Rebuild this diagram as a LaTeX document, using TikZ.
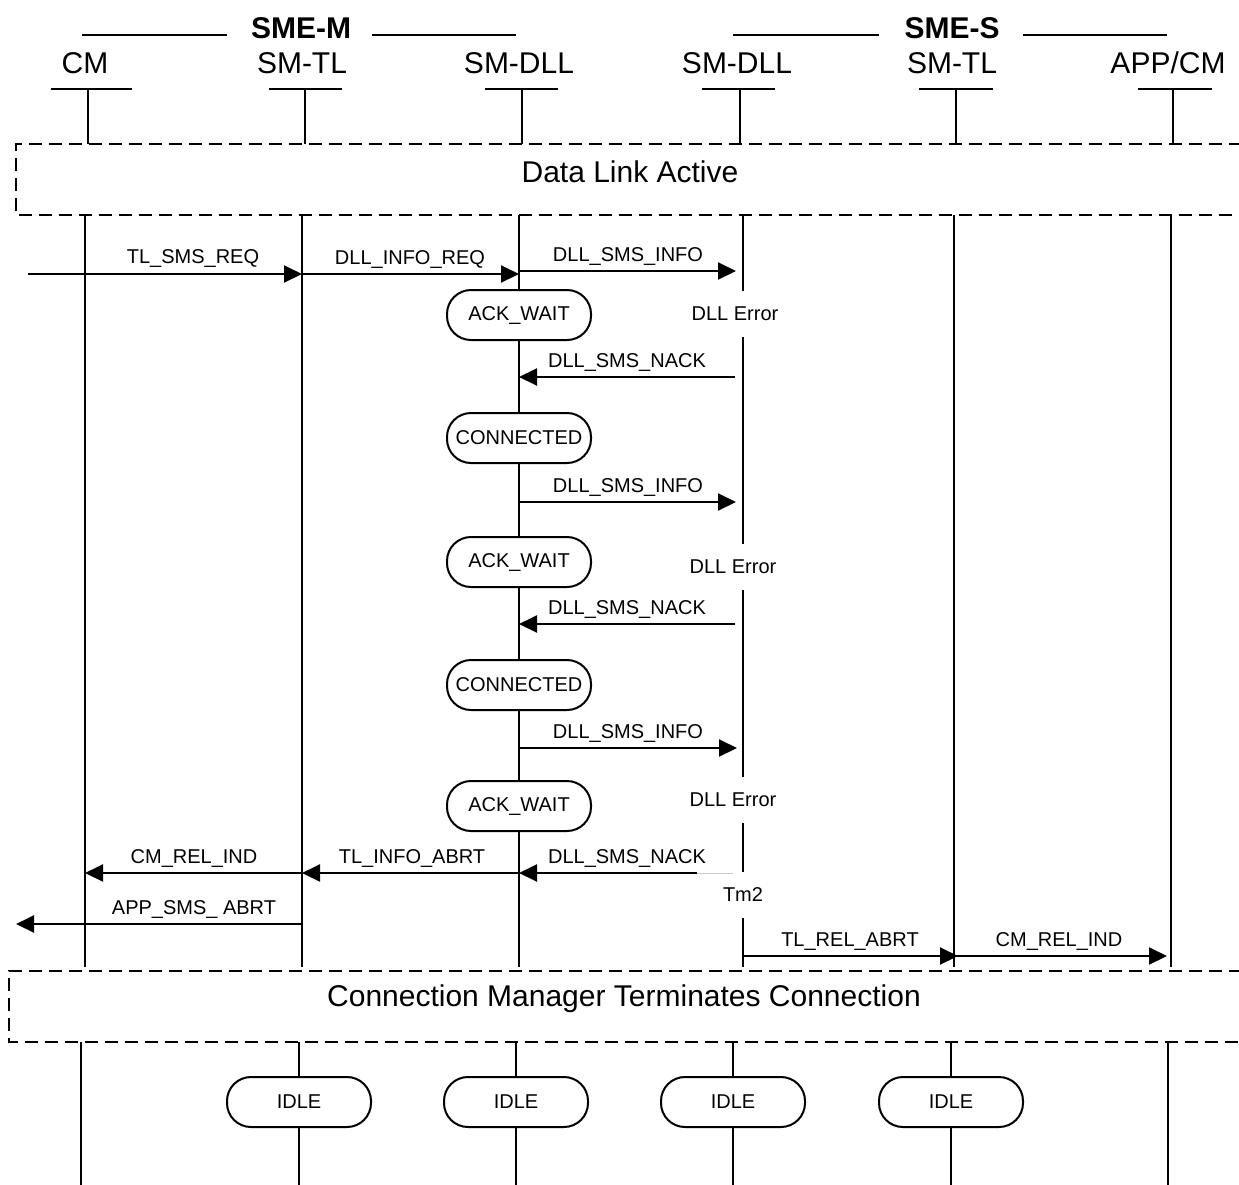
\documentclass[tikz,border=0pt]{standalone}
\usepackage{fontspec}
\setmainfont{Liberation Sans}
\usetikzlibrary{arrows.meta}

\tikzset{
  lifeline/.style={line width=1pt},
  msg/.style={line width=1pt, -{Triangle[length=9pt,width=8.5pt]}},
  msglabel/.style={anchor=base, inner sep=0pt, font=\fontsize{10}{12}\selectfont},
  headlabel/.style={anchor=base, inner sep=0pt, font=\fontsize{15}{18}\selectfont},
  statebox/.style={draw, line width=1pt, fill=white, rounded corners=12pt,
    minimum width=72pt, minimum height=25pt, inner sep=0pt, font=\fontsize{10}{12}\selectfont},
  gaplabel/.style={minimum height=23pt, inner sep=0pt, font=\fontsize{10}{12}\selectfont},
  phasebox/.style={line width=1.2pt, dash pattern=on 6.5pt off 3.5pt},
}

\begin{document}
\begin{tikzpicture}[x=0.5pt, y=-0.5pt]
    \useasboundingbox (0,0) rectangle (1239,1185);

    % entity groups
    \node[headlabel, font=\fontsize{15}{18}\selectfont\bfseries] (smeM) at (301,38) {SME-M};
    \draw[lifeline] (82,35) -- (227,35) (372,35) -- (516,35);
    \node[headlabel, font=\fontsize{15}{18}\selectfont\bfseries] (smeS) at (952,38) {SME-S};
    \draw[lifeline] (733,35) -- (879,35) (1023,35) -- (1167,35);

    % entities
    \node[headlabel] (hCM) at (85,73) {CM};
    \node[headlabel] (hTL) at (302,73) {SM-TL};
    \node[headlabel] (hDLL) at (519,73) {SM-DLL};
    \node[headlabel] (hSDLL) at (737,73) {SM-DLL};
    \node[headlabel] (hSTL) at (952,73) {SM-TL};
    \node[headlabel] (hAPP) at (1168,73) {APP/CM};
    \foreach \x/\l/\r in {88/51/132, 305/269/342, 522/485/558, 740/702/775, 956/919/993, 1173/1138/1212}
        \draw[lifeline] (\l,89) -- (\r,89) (\x,89) -- (\x,144);

    % Data Link Active
    \draw[phasebox] (1262,144) -- (16,144) -- (16,215) -- (1262,215);
    \node[font=\fontsize{15}{18}\selectfont] (dla) at (630,172) {Data Link Active};

    % lifelines
    \coordinate (cm) at (85,0);
    \coordinate (tl) at (302,0);
    \coordinate (dll) at (519,0);
    \coordinate (sdll) at (743,0);
    \coordinate (stl) at (954,0);
    \coordinate (app) at (1171,0);
    \foreach \n in {cm,tl,stl,app}
        \draw[lifeline] (\n |- 0,215) -- (\n |- 0,967);

    % states of SM-DLL
    \node[statebox] (ack1) at (519,315) {ACK\_WAIT};
    \node[statebox] (con1) at (519,438) {CONNECTED};
    \node[statebox] (ack2) at (519,562) {ACK\_WAIT};
    \node[statebox] (con2) at (519,685) {CONNECTED};
    \node[statebox] (ack3) at (519,806) {ACK\_WAIT};
    \draw[lifeline] (dll |- 0,215) -- (ack1) -- (con1) -- (ack2) -- (con2) -- (ack3) -- (dll |- 0,967);

    % errors on SME-S side
    \node[gaplabel] (err1) at (735,314) {DLL Error};
    \node[gaplabel] (err2) at (733,567) {DLL Error};
    \node[gaplabel] (err3) at (733,800) {DLL Error};
    \node[gaplabel] (tmr) at (743,895) {Tm2};
    \draw[lifeline] (sdll |- 0,215) -- (sdll |- err1.north)
        (sdll |- err1.south) -- (sdll |- err2.north)
        (sdll |- err2.south) -- (sdll |- err3.north)
        (sdll |- err3.south) -- (sdll |- tmr.north)
        (sdll |- tmr.south) -- (sdll |- 0,967);

    % messages
    \draw[msg] (28,274) -- (tl |- 0,274);
    \node[msglabel] (mReq) at (193,263) {TL\_SMS\_REQ};
    \draw[msg] (tl |- 0,274) -- (dll |- 0,274);
    \node[msglabel] (mInfoReq) at (410,264) {DLL\_INFO\_REQ};

    \draw[msg] (dll |- 0,271) -- (736,271);
    \node[msglabel] (mInfo1) at (628,261) {DLL\_SMS\_INFO};
    \draw[msg] (735,377) -- (dll |- 0,377);
    \node[msglabel] (mNack1) at (627,367) {DLL\_SMS\_NACK};

    \draw[msg] (dll |- 0,502) -- (736,502);
    \node[msglabel] (mInfo2) at (628,492) {DLL\_SMS\_INFO};
    \draw[msg] (735,624) -- (dll |- 0,624);
    \node[msglabel] (mNack2) at (627,614) {DLL\_SMS\_NACK};

    \draw[msg] (dll |- 0,748) -- (737,748);
    \node[msglabel] (mInfo3) at (628,738) {DLL\_SMS\_INFO};

    \draw[gray!40, line width=0.5pt] (697,873) -- (733,873);
    \draw[msg] (697,873) -- (dll |- 0,873);
    \node[msglabel] (mNack3) at (627,863) {DLL\_SMS\_NACK};
    \draw[msg] (dll |- 0,873) -- (tl |- 0,873);
    \node[msglabel] (mAbrt) at (412,863) {TL\_INFO\_ABRT};
    \draw[msg] (tl |- 0,873) -- (cm |- 0,873);
    \node[msglabel] (mRelM) at (194,863) {CM\_REL\_IND};
    \draw[msg] (tl |- 0,924) -- (16,924);
    \node[msglabel] (mApp) at (194,914) {APP\_SMS\_ ABRT};

    \draw[msg] (sdll |- 0,956) -- (958,956);
    \node[msglabel] (mRelAbrt) at (850,946) {TL\_REL\_ABRT};
    \draw[msg] (stl |- 0,956) -- (1167,956);
    \node[msglabel] (mRelS) at (1059,946) {CM\_REL\_IND};

    % Connection Manager Terminates Connection
    \draw[phasebox] (1262,971) -- (9,971) -- (9,1042) -- (1262,1042);
    \node[font=\fontsize{15}{18}\selectfont] (cmtc) at (624,999) {Connection Manager Terminates Connection};

    % idle states
    \draw[lifeline] (81,1042) -- (81,1185);
    \draw[lifeline] (1168,1042) -- (1168,1185);
    \foreach \x [count=\i] in {299,516,733,951} {
        \node[statebox] (idle\i) at (\x,1102) {IDLE};
        \draw[lifeline] (\x,1042) -- (idle\i) -- (\x,1185);
    }
\end{tikzpicture}
\end{document}
